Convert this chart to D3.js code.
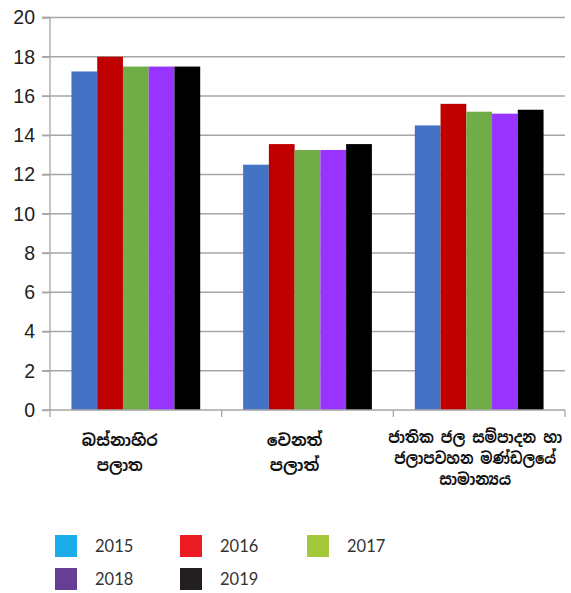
<!DOCTYPE html>
<html><head><meta charset="utf-8">
<script src="https://cdn.jsdelivr.net/npm/d3@7/dist/d3.min.js"></script>
<style>body{margin:0;background:#fff}</style>
</head><body>
<script>
const categories = [["බස්නාහිර","පලාත"],["වෙනත්","පලාත්"],["ජාතික ජල සම්පාදන හා","ජලාපවහන මණ්ඩලයේ","සාමාන්‍යය"]];
const years = ["2015","2016","2017","2018","2019"];
const v2015 = [17.25, 12.5, 14.5];
const v2016 = [18.0, 13.55, 15.6];
const v2017 = [17.5, 13.25, 15.2];
const v2018 = [17.5, 13.25, 15.1];
const v2019 = [17.5, 13.55, 15.3];
const yTicks = [0,2,4,6,8,10,12,14,16,18,20];
const barColors = ["#4472C4","#C00000","#70AD47","#9933FF","#000000"];
const legendColors = ["#1AACE8","#EC1C24","#A3C83A","#663F95","#231F20"];
const series = [v2015, v2016, v2017, v2018, v2019];

(function(){
const W = 571, H = 593;
const svg = d3.select("body").append("svg").attr("width", W).attr("height", H);
const mL = 50, mR = 565, mT = 17.5, mB = 410;
const y = d3.scaleLinear().domain([0,20]).range([mB, mT]);
const x0 = d3.scaleBand().domain(d3.range(categories.length)).range([mL, mR]).paddingInner(0.25).paddingOuter(0.125);
const xb = d3.scaleBand().domain(d3.range(categories.length)).range([mL, mR]);
const x1 = d3.scaleBand().domain(d3.range(years.length)).range([0, x0.bandwidth()]);

// gridlines
svg.append("g").selectAll("line").data(yTicks.filter(d=>d>0)).join("line")
  .attr("x1", mL-8).attr("x2", mR).attr("y1", d=>y(d)).attr("y2", d=>y(d))
  .attr("stroke", "#A6A6A6").attr("stroke-width", 1.3);

// bars
const g = svg.append("g");
series.forEach((s, si) => {
  g.selectAll(null).data(s).join("rect")
    .attr("x", (d,i)=>x0(i)+x1(si)).attr("width", x1.bandwidth())
    .attr("y", d=>y(d)).attr("height", d=>y(0)-y(d))
    .attr("fill", barColors[si]);
});

// y axis
const yAxis = d3.axisLeft(y).tickValues(yTicks).tickSize(8).tickPadding(6);
const ya = svg.append("g").attr("transform", `translate(${mL},0)`).call(yAxis);
ya.select(".domain").attr("stroke", "#A6A6A6").attr("stroke-width", 1.3).attr("d", `M-8,${mT}H0V${mB}`);
ya.selectAll(".tick line").attr("stroke", "#A6A6A6").attr("stroke-width", 1.3);
ya.selectAll(".tick text").attr("font-family", "Liberation Sans, Arial, sans-serif").attr("font-size", 19.5).attr("fill", "#222").attr("dx", -1);

// x axis
const xa = svg.append("g").attr("transform", `translate(0,${mB})`);
xa.append("line").attr("x1", mL-8).attr("x2", mR).attr("stroke", "#A6A6A6").attr("stroke-width", 1.3);
const bounds = [mL, ...categories.map((c,i)=>xb(i)+xb.bandwidth())];
xa.selectAll("line.tk").data(bounds).join("line").attr("class","tk")
  .attr("x1", d=>d).attr("x2", d=>d).attr("y1", 0).attr("y2", 7)
  .attr("stroke", "#A6A6A6").attr("stroke-width", 1.3);

// category labels
const labelShift = [-16, -13, -4];
const maxW = [[76,46],[59,50],[174,162,72]];
categories.forEach((lines, i) => {
  const cx = xb(i) + xb.bandwidth()/2 + labelShift[i];
  lines.forEach((l, j) => {
    const ly = (i===2 ? 443 + j*21 : 446 + j*25);
    const t = svg.append("text").attr("text-anchor","middle")
      .attr("font-family", "Noto Sans Sinhala, Noto Sans, sans-serif")
      .attr("font-size", 16).attr("font-weight", "bold").attr("fill", "#111")
      .attr("transform", `translate(${cx},${ly})`).text(l);
    const w = t.node().getComputedTextLength();
    if (w > maxW[i][j]) t.attr("transform", `translate(${cx},${ly}) scale(${maxW[i][j]/w},1)`);
  });
});

// legend
const legPos = [[55,546],[180,546],[307,546],[55,579],[180,579]];
years.forEach((yr, i) => {
  const [lx, ly] = legPos[i];
  svg.append("rect").attr("x", lx).attr("y", ly-11).attr("width", 22).attr("height", 22).attr("fill", legendColors[i]);
  svg.append("text").attr("x", lx+40).attr("y", ly+6).attr("font-family", "Lato, sans-serif")
    .attr("font-size", 16.5).attr("fill", "#333").text(yr);
});
})();
</script>
</body></html>
